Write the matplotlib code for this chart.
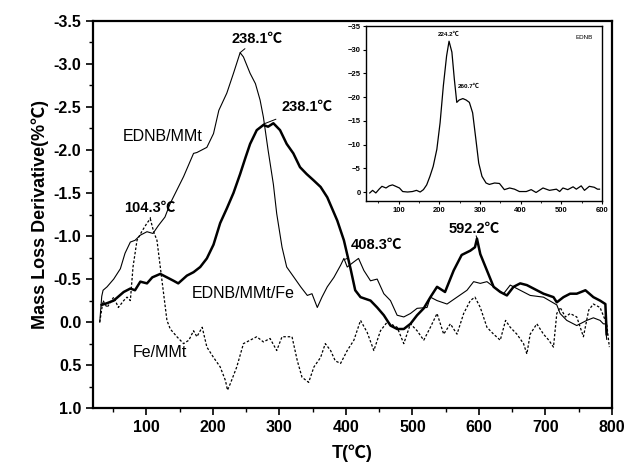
import matplotlib
matplotlib.use("Agg")
import matplotlib.pyplot as plt
from matplotlib.ticker import MultipleLocator

plt.rcParams['font.family'] = ['Liberation Sans', 'Noto Sans CJK SC', 'DejaVu Sans']

# EDNB/MMt (thin solid)
t_mmt = [30, 33, 35, 41, 51, 61, 68, 76, 83, 91, 101, 110, 118, 128, 136, 156, 171, 176,
         191, 201, 209, 221, 231, 241, 246, 256, 264, 271, 276, 283, 291, 296, 304, 311,
         322, 332, 342, 349, 357, 364, 372, 382, 392, 397, 402, 412, 419, 427, 437, 447,
         457, 467, 477, 487, 497, 507, 522, 527, 537, 552, 567, 582, 592, 602, 612, 622,
         637, 647, 662, 677, 697, 717, 722, 732, 747, 752, 762, 772, 782, 787, 790, 792]
d_mmt = [0.0, -0.3, -0.37, -0.41, -0.5, -0.62, -0.8, -0.93, -0.95, -1.01, -1.05, -1.03,
         -1.12, -1.22, -1.38, -1.69, -1.96, -1.97, -2.03, -2.19, -2.46, -2.66, -2.89,
         -3.13, -3.08, -2.89, -2.77, -2.58, -2.38, -2.0, -1.6, -1.26, -0.87, -0.64, -0.52,
         -0.41, -0.31, -0.33, -0.17, -0.29, -0.41, -0.52, -0.66, -0.74, -0.64, -0.7,
         -0.74, -0.6, -0.48, -0.5, -0.33, -0.25, -0.08, -0.06, -0.1, -0.16, -0.17, -0.29,
         -0.25, -0.21, -0.29, -0.37, -0.47, -0.45, -0.47, -0.41, -0.33, -0.43, -0.37,
         -0.31, -0.29, -0.2, -0.1, -0.02, 0.04, 0.02, -0.02, -0.05, -0.02, 0.02, 0.02, 0.2]

# EDNB/MMt/Fe (thick solid)
t_fe = [33, 41, 51, 66, 76, 83, 91, 101, 109, 121, 131, 141, 148, 161, 171, 181, 191,
        201, 211, 221, 231, 241, 249, 256, 266, 276, 283, 291, 301, 311, 321, 331, 341,
        351, 362, 372, 387, 397, 407, 414, 422, 437, 447, 457, 467, 477, 487, 497, 507,
        517, 527, 537, 549, 562, 574, 587, 594, 597, 602, 612, 622, 632, 642, 652, 662,
        672, 682, 697, 712, 717, 727, 737, 747, 760, 772, 782, 790, 792]
d_fe = [-0.2, -0.22, -0.25, -0.35, -0.39, -0.37, -0.47, -0.45, -0.52, -0.56, -0.52,
        -0.48, -0.45, -0.54, -0.58, -0.64, -0.74, -0.9, -1.15, -1.32, -1.5, -1.72,
        -1.91, -2.07, -2.23, -2.29, -2.27, -2.31, -2.23, -2.07, -1.96, -1.8, -1.72,
        -1.65, -1.57, -1.45, -1.18, -0.95, -0.62, -0.37, -0.29, -0.25, -0.17, -0.08,
        0.04, 0.08, 0.08, 0.02, -0.08, -0.16, -0.29, -0.41, -0.35, -0.6, -0.78, -0.83,
        -0.87, -0.97, -0.79, -0.6, -0.41, -0.35, -0.31, -0.41, -0.45, -0.43, -0.39,
        -0.33, -0.29, -0.23, -0.29, -0.33, -0.33, -0.37, -0.29, -0.25, -0.21, 0.14]

# Fe/MMt (dotted)
t_femmt = [30, 35, 41, 51, 58, 66, 71, 76, 80, 86, 93, 101, 106, 111, 116, 121, 126,
           131, 136, 146, 156, 164, 171, 176, 184, 191, 201, 211, 219, 222, 226, 236,
           246, 256, 266, 276, 286, 296, 304, 311, 319, 327, 334, 344, 352, 362, 369,
           377, 384, 392, 402, 412, 422, 432, 442, 452, 462, 477, 487, 497, 507, 517,
           527, 537, 547, 557, 567, 577, 587, 594, 602, 612, 622, 632, 640, 647, 657,
           667, 672, 677, 687, 697, 705, 712, 717, 722, 730, 737, 747, 757, 765, 772,
           782, 792, 796]
d_femmt = [0.0, -0.25, -0.17, -0.29, -0.17, -0.25, -0.29, -0.25, -0.64, -0.95, -1.05,
           -1.15, -1.2, -1.05, -0.95, -0.64, -0.33, -0.02, 0.08, 0.17, 0.25, 0.21, 0.1,
           0.17, 0.06, 0.29, 0.41, 0.52, 0.68, 0.79, 0.72, 0.52, 0.25, 0.21, 0.17, 0.23,
           0.19, 0.33, 0.17, 0.17, 0.17, 0.45, 0.64, 0.7, 0.52, 0.41, 0.25, 0.33, 0.45,
           0.48, 0.33, 0.21, -0.02, 0.12, 0.33, 0.1, 0.0, 0.06, 0.25, 0.02, 0.1, 0.21,
           0.06, -0.1, 0.14, 0.02, 0.14, -0.1, -0.25, -0.29, -0.17, 0.06, 0.14, 0.21,
           -0.02, 0.06, 0.14, 0.25, 0.37, 0.14, 0.02, 0.14, 0.21, 0.29, -0.1, -0.17,
           -0.06, -0.1, -0.06, 0.17, -0.14, -0.21, -0.17, 0.02, 0.29]

# pure EDNB (inset)
t_ednb = [29, 36, 44, 52, 59, 69, 77, 85, 93, 102, 110, 122, 134, 144, 153, 161, 169,
          177, 185, 194, 202, 210, 218, 224, 231, 237, 243, 249, 258, 266, 274, 282,
          290, 297, 305, 315, 323, 336, 348, 360, 373, 385, 397, 414, 426, 438, 455,
          471, 488, 496, 504, 516, 529, 537, 549, 557, 569, 581, 589, 594]
d_ednb = [0.2, -0.35, 0.2, -0.6, -1.2, -0.85, -1.3, -1.5, -1.2, -0.85, -0.1, 0.0, -0.1,
          -0.35, 0.0, -0.5, -1.5, -3.3, -5.4, -9.0, -14.6, -22.4, -28.7, -31.8, -29.5,
          -23.8, -18.9, -19.4, -19.7, -19.4, -18.9, -16.7, -11.1, -6.1, -3.3, -1.9,
          -1.6, -1.9, -1.8, -0.5, -0.85, -0.6, -0.1, -0.1, -0.5, 0.1, -0.85, -0.35,
          -0.6, -0.1, -0.85, -0.5, -1.1, -0.6, -1.3, -0.35, -1.2, -1.0, -0.6, -0.6]

# peak annotations: (text, peak T, peak value, text T, text value)
peaks = [("238.1℃", 241, -3.13, 266, -3.29),
         ("238.1℃", 276, -2.3, 342, -2.5),
         ("104.3℃", 106, -1.2, 106, -1.33),
         ("408.3℃", 399, -0.73, 446, -0.89),
         ("592.2℃", 597, -0.97, 593, -1.08)]

fig = plt.figure(figsize=(6.29, 4.73), dpi=100)
ax = fig.add_axes([0.148, 0.137, 0.825, 0.819])

ax.plot(t_mmt, d_mmt, color='black', lw=0.8)
ax.plot(t_fe, d_fe, color='black', lw=1.8)
ax.plot(t_femmt, d_femmt, color='black', lw=0.9, linestyle=(0, (2, 1.5)))

ax.set_xlim(20, 800)
ax.set_ylim(1.0, -3.5)
ax.xaxis.set_major_locator(MultipleLocator(100))
ax.xaxis.set_minor_locator(MultipleLocator(50))
ax.yaxis.set_major_locator(MultipleLocator(0.5))
ax.yaxis.set_minor_locator(MultipleLocator(0.25))
ax.set_xticks([100, 200, 300, 400, 500, 600, 700, 800])
ax.set_yticklabels([f"{v:.1f}" for v in ax.get_yticks()])
ax.tick_params(which='major', direction='out', length=5, width=1.2, labelsize=11.5)
ax.tick_params(which='minor', direction='out', length=3, width=1.0)
for lab in ax.get_xticklabels() + ax.get_yticklabels():
    lab.set_fontweight('bold')
for s in ax.spines.values():
    s.set_linewidth(1.6)

ax.set_xlabel("T(℃)", fontsize=13, fontweight='bold', labelpad=7)
ax.set_ylabel("Mass Loss Derivative(%℃)", fontsize=13, fontweight='bold', labelpad=3)

for txt, px, py, tx, ty in peaks:
    ax.annotate(txt, xy=(px, py), xytext=(tx, ty), ha='center', va='center',
                fontsize=10.5, fontweight='bold',
                arrowprops=dict(arrowstyle='-', color='black', lw=0.7, shrinkA=5, shrinkB=0))

ax.text(125, -2.16, "EDNB/MMt", fontsize=11.5, ha='center', va='center')
ax.text(246, -0.33, "EDNB/MMt/Fe", fontsize=11.5, ha='center', va='center')
ax.text(121, 0.35, "Fe/MMt", fontsize=11.5, ha='center', va='center')

# inset with the neat EDNB curve
ins = fig.add_axes([0.582, 0.575, 0.375, 0.370])
ins.plot(t_ednb, d_ednb, color='black', lw=0.9)
ins.set_xlim(20, 600)
ins.set_ylim(1.9, -35)
ins.xaxis.set_major_locator(MultipleLocator(100))
ins.xaxis.set_minor_locator(MultipleLocator(50))
ins.set_yticks([0, -5, -10, -15, -20, -25, -30, -35])
ins.tick_params(which='major', direction='out', length=2.5, width=0.8, labelsize=5.5, pad=1.5)
ins.tick_params(which='minor', direction='out', length=1.5, width=0.6)
for lab in ins.get_xticklabels() + ins.get_yticklabels():
    lab.set_fontweight('bold')
for s in ins.spines.values():
    s.set_linewidth(1.0)
ins.text(224, -33.2, "224.2℃", fontsize=4.5, fontweight='bold', ha='center', va='center')
ins.text(272, -22.2, "260.7℃", fontsize=4.5, fontweight='bold', ha='center', va='center')
ins.text(555, -32.5, "EDNB", fontsize=4.5, ha='center', va='center')

fig.savefig("out.png", dpi=100)
